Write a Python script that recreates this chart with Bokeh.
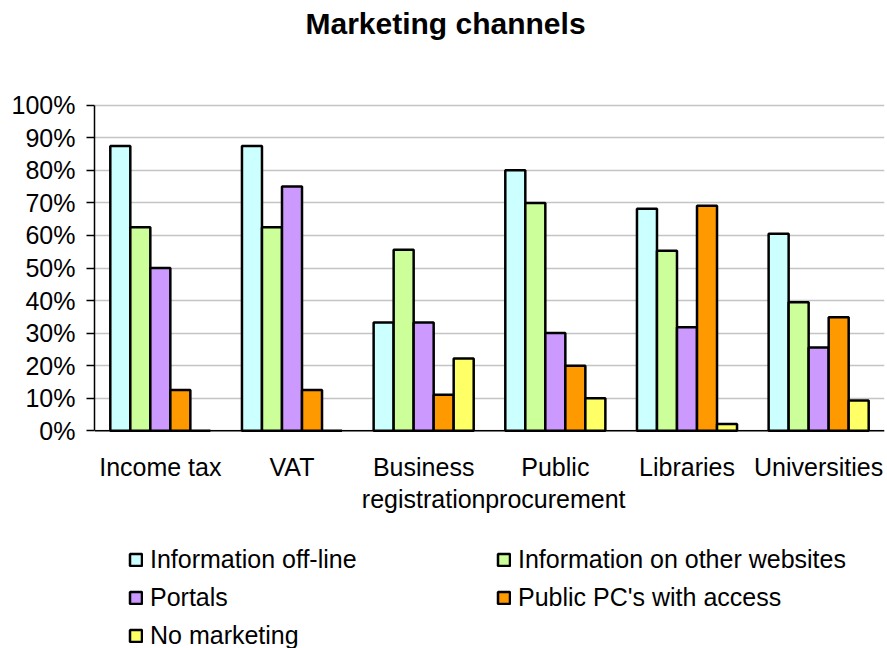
from bokeh.plotting import figure
from bokeh.models import (FactorRange, Range1d, FixedTicker, PrintfTickFormatter,
                          Legend, LegendItem, ColumnDataSource, Label, Span)
from bokeh.core.properties import value
from bokeh.transform import dodge
from bokeh.embed import file_html
from bokeh.resources import INLINE

categories = ["Income tax", "VAT", "Business\nregistration", "Public\nprocurement",
              "Libraries", "Universities"]
series_names = ["Information off-line", "Information on other websites", "Portals",
                "Public PC's with access", "No marketing"]
offline = [87.5, 87.5, 33.3, 80.0, 68.2, 60.5]
other_sites = [62.5, 62.5, 55.6, 70.0, 55.3, 39.5]
portals = [50.0, 75.0, 33.3, 30.0, 31.8, 25.6]
public_pc = [12.5, 12.5, 11.1, 20.0, 69.1, 34.9]
no_marketing = [0.0, 0.0, 22.2, 10.0, 2.1, 9.3]
y_ticks = list(range(0, 101, 10))
title_text = "Marketing channels"

colors = ["#CCFFFF", "#CCFF99", "#CC99FF", "#FF9900", "#FFFF66"]
series = [offline, other_sites, portals, public_pc, no_marketing]
keys = ["offline", "other_sites", "portals", "public_pc", "no_marketing"]

data = {"cat": categories}
for k, s in zip(keys, series):
    data[k] = s
src = ColumnDataSource(data)

FONT = "Liberation Sans"

# layout geometry (pixels)
W, H = 887, 648
left, right = 94, 3
y0_px, y100_px = 430.3, 104.7
ppu = (y0_px - y100_px) / 100.0
y_start = -(H - y0_px) / ppu
y_end = y0_px / ppu

p = figure(width=W, height=H, x_range=FactorRange(factors=categories),
           y_range=Range1d(y_start, y_end), output_backend="svg",
           toolbar_location=None, tools="", title=None,
           min_border_left=left, min_border_right=right, min_border_top=0,
           min_border_bottom=0, background_fill_color="white",
           border_fill_color="white")
p.outline_line_color = None

bw = 0.152
offsets = [-2 * bw, -bw, 0, bw, 2 * bw]
renderers = []
for k, c, off in zip(keys, colors, offsets):
    r = p.vbar(x=dodge("cat", off, range=p.x_range), top=k, width=bw, source=src,
               fill_color=c, line_color="black", line_width=2.5)
    renderers.append(r)

# y axis
p.yaxis.bounds = (0, 100)
p.yaxis.ticker = FixedTicker(ticks=y_ticks)
p.yaxis.formatter = PrintfTickFormatter(format="%d%%")
p.yaxis.major_tick_out = 8
p.yaxis.major_tick_in = 0
p.yaxis.minor_tick_line_color = None
p.yaxis.major_label_standoff = 11
p.yaxis.axis_line_color = "black"
p.yaxis.axis_line_width = 1.5
p.yaxis.major_tick_line_width = 1.5
p.yaxis.major_label_text_font = FONT
p.yaxis.major_label_text_font_size = "25px"
p.yaxis.major_label_text_color = "black"

p.xaxis.visible = False
p.xgrid.grid_line_color = None
p.ygrid.grid_line_color = "#c4c4c4"
p.ygrid.grid_line_width = 1.5
p.ygrid.bounds = (0, 100)
p.ygrid.ticker = FixedTicker(ticks=y_ticks)

# x axis baseline
p.add_layout(Span(location=0, dimension="width", line_color="black", line_width=1.5))

# category labels
p.text(x="cat", y=-6.9, text="cat", source=src, text_font=value(FONT),
       text_font_size="25px", text_align="center", text_baseline="top",
       text_color="black", text_line_height=1.13)

# title
p.add_layout(Label(x=2.666, y=(y0_px - 23) / ppu, text=title_text, text_font=FONT,
                   text_font_size="30px", text_font_style="bold",
                   text_align="center", text_baseline="middle", text_color="black"))

# legend (column-major fill: col 1 = items 0,2,4 ; col 2 = items 1,3)
order = [0, 2, 4, 1, 3]
items = [LegendItem(label=series_names[i], renderers=[renderers[i]]) for i in order]
spacing = 9
legend = Legend(items=items, ncols=2, location=(34, -2), orientation="vertical",
                glyph_width=15, glyph_height=15, label_standoff=7,
                label_text_font=FONT, label_text_font_size="25px",
                label_text_color="black", label_height=28,
                label_width=368 - 22 - spacing, spacing=spacing, padding=0, margin=0,
                border_line_color=None, background_fill_alpha=0)
p.add_layout(legend, "center")

open("out.html", "w").write(file_html(p, INLINE))
